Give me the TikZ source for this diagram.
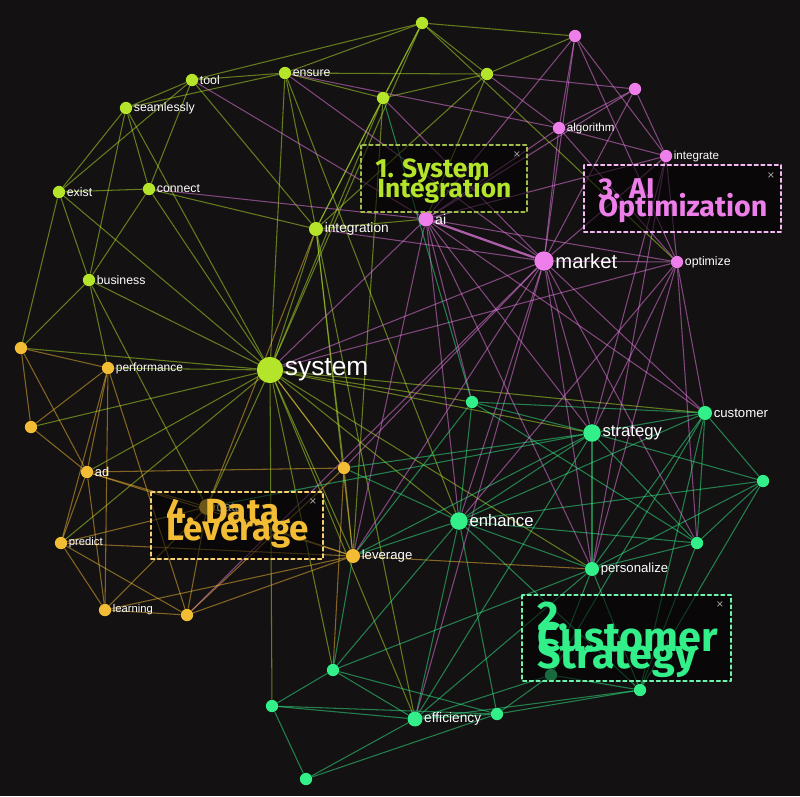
\documentclass[tikz,border=0pt]{standalone}
\usepackage{fontspec}
\setmainfont{Liberation Sans}
\newfontfamily\titlefont{Fira Sans}
\definecolor{bgdark}{HTML}{141112}
\definecolor{clime}{HTML}{B4E52B}
\definecolor{cpink}{HTML}{EE7FEA}
\definecolor{cmint}{HTML}{33EF8A}
\definecolor{cgold}{HTML}{F2BC35}
\pgfdeclarelayer{edges}
\pgfsetlayers{edges,main}
\tikzset{
  blob/.style={circle, inner sep=0pt, minimum size=#1},
  lbl/.style={text=white, inner sep=0.6pt, font=\fontsize{#1}{#1}\selectfont},
  gLime/.style={blob=#1, fill=clime}, gLime/.default=7pt,
  gPink/.style={blob=#1, fill=cpink}, gPink/.default=7pt,
  gMint/.style={blob=#1, fill=cmint}, gMint/.default=7pt,
  gGold/.style={blob=#1, fill=cgold}, gGold/.default=7pt,
  eLime/.style={draw=clime, opacity=.5, line width=.6pt},
  ePink/.style={draw=cpink, opacity=.5, line width=.6pt},
  eMint/.style={draw=cmint, opacity=.5, line width=.6pt},
  eGold/.style={draw=cgold, opacity=.5, line width=.6pt},
  frame/.style={draw=#1, dashed, dash pattern=on 2.2pt off 1.6pt, line width=.7pt, fill=black, fill opacity=.55},
  title/.style={text=#1, anchor=base west, inner sep=0pt},
  tsize/.style={font=\titlefont\bfseries\fontsize{#1}{#1}\selectfont},
  closex/.style={text=gray!70, inner sep=0pt, font=\fontsize{7pt}{7pt}\selectfont}
}
\begin{document}
\begin{tikzpicture}[x=0.02cm, y=-0.02cm, line join=round, line cap=round]
  \useasboundingbox (0,0) rectangle (800,796);
  \begin{pgfonlayer}{edges}
    \fill[bgdark] (0,0) rectangle (800,796);
  \end{pgfonlayer}

  % system integration
  \node[gLime] (gtop) at (422,23) {};
  \node[gLime, label={[lbl=7pt]right:tool}] (tool) at (192,80) {};
  \node[gLime, label={[lbl=7pt]right:ensure}] (ensure) at (285,73) {};
  \node[gLime, label={[lbl=7pt]right:seamlessly}] (seam) at (126,108) {};
  \node[gLime, label={[lbl=7pt]right:exist}] (exist) at (59,192) {};
  \node[gLime, label={[lbl=7pt]right:connect}] (connect) at (149,189) {};
  \node[gLime, label={[lbl=7pt]right:business}] (business) at (89,280) {};
  \node[gLime=8pt, label={[lbl=7.8pt]right:integration}] (integr) at (316,229) {};
  \node[gLime=15pt, label={[lbl=15pt]right:system}] (system) at (270,370) {};
  \node[gLime] (gA) at (383,98) {};
  \node[gLime] (gB) at (487,74) {};

  % ai optimization
  \node[gPink] (pA) at (575,36) {};
  \node[gPink] (pB) at (635,89) {};
  \node[gPink, label={[lbl=6.6pt]right:algorithm}] (algo) at (559,128) {};
  \node[gPink, label={[lbl=6.6pt]right:integrate}] (integrate) at (666,156) {};
  \node[gPink=8.5pt, label={[lbl=8pt]right:ai}] (ai) at (426,219) {};
  \node[gPink=11pt, label={[lbl=11.5pt]right:market}] (market) at (544,261) {};
  \node[gPink, label={[lbl=7pt]right:optimize}] (optimize) at (677,262) {};

  % customer strategy
  \node[gMint] (cA) at (472,402) {};
  \node[gMint=10pt, label={[lbl=9.5pt]right:strategy}] (strategy) at (592,433) {};
  \node[gMint=8pt, label={[lbl=7.5pt]right:customer}] (customer) at (705,413) {};
  \node[gMint] (cB) at (763,481) {};
  \node[gMint=10pt, label={[lbl=9.5pt]right:enhance}] (enhance) at (459,521) {};
  \node[gMint] (cC) at (697,543) {};
  \node[gMint=8pt, label={[lbl=7.5pt]right:personalize}] (personal) at (592,569) {};
  \node[gMint] (cD) at (551,675) {};
  \node[gMint] (cE) at (640,690) {};
  \node[gMint] (cF) at (333,670) {};
  \node[gMint] (cG) at (272,706) {};
  \node[gMint] (cH) at (497,714) {};
  \node[gMint=8.5pt, label={[lbl=7.8pt]right:efficiency}] (efficiency) at (415,719) {};
  \node[gMint] (cI) at (306,779) {};

  % data leverage
  \node[gGold] (oA) at (21,348) {};
  \node[gGold, label={[lbl=6.8pt]right:performance}] (perf) at (108,368) {};
  \node[gGold] (oB) at (31,427) {};
  \node[gGold, label={[lbl=7.3pt]right:ad}] (ad) at (87,472) {};
  \node[gGold, label={[lbl=6.4pt]right:predict}] (predict) at (61,543) {};
  \node[gGold=9pt, label={[lbl=7.5pt]right:data}] (data) at (207,507) {};
  \node[gGold=8pt, label={[lbl=7.5pt]right:leverage}] (leverage) at (353,556) {};
  \node[gGold, label={[lbl=6.4pt]right:learning}] (learning) at (105,610) {};
  \node[gGold] (oC) at (187,615) {};
  \node[gGold] (oD) at (344,468) {};

  \begin{pgfonlayer}{edges}
    \foreach \a/\b in {tool/ensure, tool/seam, tool/connect, tool/exist, tool/integr, tool/gtop,
        seam/exist, seam/connect, seam/business, seam/ensure, seam/system,
        exist/connect, exist/business, exist/oA, exist/system,
        connect/business, connect/system, connect/integr,
        business/oA, business/system, business/perf, business/data,
        ensure/gtop, ensure/gA, ensure/integr, ensure/system, ensure/gB, ensure/enhance,
        gtop/gA, gtop/gB, gtop/pA, gtop/integr, gtop/system, gtop/optimize,
        gA/integr, gA/system, gA/gB, gA/leverage, gB/integr, gB/ai, gB/pA,
        integr/system, integr/ai, integr/leverage, integr/efficiency, integr/oD,
        system/oA, system/perf, system/oB, system/ad, system/data, system/oD, system/leverage,
        system/cF, system/cG, system/efficiency, system/enhance, system/cA, system/strategy,
        system/customer, system/personal, system/predict}
      \draw[eLime] (\a) -- (\b);
    \foreach \a/\b in {pA/algo, pA/market, pA/optimize, pA/integrate, pA/ai,
        pB/algo, pB/integrate, pB/market, pB/ai, pB/gB,
        algo/ai, algo/market, algo/integrate, algo/optimize, algo/gB, algo/ensure,
        integrate/market, integrate/optimize, integrate/ai, integrate/personal, integrate/strategy,
        ai/optimize, ai/system, ai/enhance, ai/strategy, ai/personal, ai/cA, ai/leverage,
        ai/tool, ai/connect, ai/customer,
        market/optimize, market/strategy, market/enhance, market/personal, market/customer,
        market/leverage, market/oD, market/system, market/efficiency, market/cC, market/gA,
        market/ensure, market/integr, market/oC,
        optimize/strategy, optimize/customer, optimize/personal, optimize/cC, optimize/enhance,
        optimize/system}
      \draw[ePink] (\a) -- (\b);
    \draw[ePink, line width=1.3pt, opacity=.7] (ai) -- (market);
    \foreach \a/\b in {strategy/customer, strategy/enhance, strategy/personal, strategy/cA,
        strategy/cB, strategy/cC, strategy/efficiency, strategy/leverage, strategy/oD, strategy/data,
        customer/cB, customer/cC, customer/personal, customer/enhance, customer/cA, customer/cD,
        customer/cE,
        enhance/personal, enhance/cC, enhance/efficiency, enhance/cF, enhance/cH, enhance/leverage,
        enhance/cA, enhance/cE, enhance/oD,
        personal/cC, personal/cE, personal/cD, personal/cB, personal/efficiency, personal/cF,
        cB/cC, cB/enhance, cB/cE, cD/cH, cD/cE, cD/efficiency, cE/cH, cE/cC, cE/efficiency,
        cF/cG, cF/efficiency, cF/cH, cF/leverage, cG/efficiency, cG/cI, cG/cH,
        cH/efficiency, cI/cH, cI/efficiency, cA/gA, cA/leverage, cA/cC}
      \draw[eMint] (\a) -- (\b);
    \foreach \a/\b in {oA/oB, oA/ad, oA/perf, perf/ad, perf/predict, perf/learning, perf/oC,
        oB/ad, oB/perf, ad/predict, ad/learning, ad/data, ad/leverage,
        predict/learning, predict/data, predict/oC, predict/leverage,
        data/leverage, data/oC, data/learning, data/integr,
        leverage/learning, leverage/oC, leverage/oD, leverage/personal,
        oC/learning, oD/ad, oD/system, oD/cF, oD/oC}
      \draw[eGold] (\a) -- (\b);
  \end{pgfonlayer}

  % cluster boxes
  \draw[frame=clime!60!gray] (361,145) rectangle (527,212);
  \node[title=clime, tsize=15pt] (tSysA) at (375,177) {1. System};
  \node[title=clime, tsize=15pt] (tSysB) at (377,197) {Integration};
  \node[closex] (xSys) at (517,155) {×};

  \draw[frame=cpink!55!white] (584,165) rectangle (781,232);
  \node[title=cpink, tsize=16.3pt] (tAiA) at (598,198) {3. AI};
  \node[title=cpink, tsize=16.3pt] (tAiB) at (598,216) {Optimization};
  \node[closex] (xAi) at (771,176) {×};

  \draw[frame=cgold!70!white] (151,492) rectangle (323,559);
  \node[title=cgold, tsize=19.9pt] (tDataA) at (166,523) {4. Data};
  \node[title=cgold, tsize=19.9pt] (tDataB) at (166,540) {Leverage};
  \node[closex] (xData) at (313,502) {×};

  \draw[frame=cmint!70!white] (522,595) rectangle (731,681);
  \node[title=cmint, tsize=23.5pt] (tCustA) at (537,630) {2.};
  \node[title=cmint, tsize=23.5pt] (tCustB) at (537,651) {Customer};
  \node[title=cmint, tsize=23.5pt] (tCustC) at (537,668) {Strategy};
  \node[closex] (xCust) at (720,605) {×};
\end{tikzpicture}
\end{document}
